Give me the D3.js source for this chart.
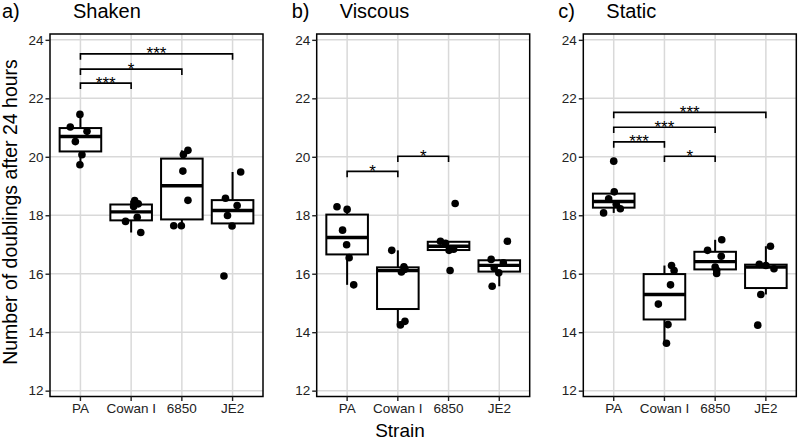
<!DOCTYPE html>
<html><head><meta charset="utf-8">
<script src="https://cdn.jsdelivr.net/npm/d3@7"></script>
<style>body{margin:0;background:#fff;} text{font-family:"Liberation Sans",Arial,Helvetica,sans-serif;}</style>
</head><body>
<svg id="chart" width="800" height="440"></svg>
<script>
const strains = ["PA", "Cowan I", "6850", "JE2"];
const conditions = ["Shaken", "Viscous", "Static"];
const panelTags = ["a)", "b)", "c)"];
const yTicks = [12, 14, 16, 18, 20, 22, 24];

// values per strain (PA, Cowan I, 6850, JE2)
const shakenValues = [
  [21.45, 21.02, 20.87, 20.52, 20.07, 19.73],
  [18.50, 18.39, 18.30, 17.93, 17.79, 17.41],
  [20.22, 20.08, 19.51, 18.51, 17.64, 17.64],
  [19.48, 18.58, 18.33, 17.99, 17.63, 15.92]
];
const viscousValues = [
  [18.29, 18.20, 17.49, 16.99, 16.55, 15.62],
  [16.80, 16.24, 16.15, 16.06, 14.37, 14.25],
  [18.40, 17.11, 17.04, 16.84, 16.80, 16.11],
  [17.11, 16.49, 16.37, 16.20, 16.03, 15.57]
];
const staticValues = [
  [19.85, 18.80, 18.56, 18.38, 18.22, 18.08],
  [16.28, 16.11, 15.62, 14.96, 14.26, 13.62],
  [17.16, 16.80, 16.60, 16.23, 16.12, 16.01],
  [16.94, 16.32, 16.28, 16.17, 15.29, 14.24]
];
// horizontal jitter (category units) of each point
const shakenJitter = [
  [-0.01, -0.20, 0.13, -0.10, 0.03, -0.01],
  [0.07, 0.14, 0.05, 0.12, -0.11, 0.19],
  [0.12, 0.03, 0.02, 0.12, -0.16, -0.01],
  [0.16, -0.14, 0.09, -0.10, -0.01, -0.17]
];
const viscousJitter = [
  [-0.20, 0.00, -0.09, -0.01, 0.04, 0.13],
  [-0.12, 0.12, 0.14, 0.07, 0.14, 0.05],
  [0.13, -0.16, -0.06, 0.10, 0.01, 0.03],
  [0.16, -0.16, 0.08, -0.10, -0.01, -0.14]
];
const staticJitter = [
  [0.00, 0.01, -0.10, 0.05, 0.13, -0.20],
  [0.14, 0.19, 0.12, -0.12, 0.07, 0.04],
  [0.13, -0.15, 0.12, 0.00, 0.03, 0.03],
  [0.09, -0.13, 0.00, 0.16, -0.10, -0.16]
];
// significance brackets: [from, to, y, label]
const shakenSig = [["PA", "Cowan I", 22.52, "***"], ["PA", "6850", 23.0, "*"], ["PA", "JE2", 23.52, "***"]];
const viscousSig = [["PA", "Cowan I", 19.50, "*"], ["Cowan I", "6850", 20.02, "*"]];
const staticSig = [["PA", "Cowan I", 20.51, "***"], ["PA", "6850", 21.01, "***"], ["PA", "JE2", 21.52, "***"], ["Cowan I", "6850", 20.02, "*"]];

const panelValues = [shakenValues, viscousValues, staticValues];
const panelJitter = [shakenJitter, viscousJitter, staticJitter];
const panelSig = [shakenSig, viscousSig, staticSig];

const svg = d3.select("#chart");
const panelLefts = [50, 316.7, 583.3];
const panelW = 213;
const plotTop = 34, plotBottom = 396.5;
const y = d3.scaleLinear().domain([11.8, 24.2]).range([plotBottom, plotTop]);

function stats(vals) {
  const s = vals.slice().sort(d3.ascending);
  const q1 = d3.quantile(s, 0.25), med = d3.quantile(s, 0.5), q3 = d3.quantile(s, 0.75);
  const iqr = q3 - q1;
  const lo = d3.min(s.filter(v => v >= q1 - 1.5 * iqr));
  const hi = d3.max(s.filter(v => v <= q3 + 1.5 * iqr));
  return {q1, med, q3, lo, hi};
}

conditions.forEach((cond, pi) => {
  const left = panelLefts[pi];
  const x = d3.scaleBand().domain(strains).range([left, left + panelW]).paddingInner(0).paddingOuter(0.1);
  const step = x.bandwidth();
  const cx = s => x(s) + step / 2;
  const g = svg.append("g");

  // grid
  g.selectAll(".hg").data(yTicks).join("line")
    .attr("x1", left).attr("x2", left + panelW)
    .attr("y1", d => y(d)).attr("y2", d => y(d))
    .attr("stroke", "#d9d9d9").attr("stroke-width", 1.5);
  g.selectAll(".vg").data(strains).join("line")
    .attr("x1", d => cx(d)).attr("x2", d => cx(d))
    .attr("y1", plotTop).attr("y2", plotBottom)
    .attr("stroke", "#d9d9d9").attr("stroke-width", 1.5);

  // boxes
  const vals = panelValues[pi];
  strains.forEach((s, si) => {
    const st = stats(vals[si]);
    const c = cx(s), hw = step * 0.41;
    g.append("line").attr("x1", c).attr("x2", c).attr("y1", y(st.hi)).attr("y2", y(st.q3))
      .attr("stroke", "#000").attr("stroke-width", 2);
    g.append("line").attr("x1", c).attr("x2", c).attr("y1", y(st.q1)).attr("y2", y(st.lo))
      .attr("stroke", "#000").attr("stroke-width", 2);
    g.append("rect").attr("x", c - hw).attr("width", 2 * hw)
      .attr("y", y(st.q3)).attr("height", y(st.q1) - y(st.q3))
      .attr("fill", "#fff").attr("stroke", "#000").attr("stroke-width", 2);
    g.append("line").attr("x1", c - hw).attr("x2", c + hw).attr("y1", y(st.med)).attr("y2", y(st.med))
      .attr("stroke", "#000").attr("stroke-width", 3.4);
  });

  // points
  strains.forEach((s, si) => {
    g.selectAll(null).data(vals[si].map((v, k) => [v, panelJitter[pi][si][k]])).join("circle")
      .attr("cx", d => cx(s) + d[1] * step).attr("cy", d => y(d[0]))
      .attr("r", 3.8).attr("fill", "#000");
  });

  // significance brackets
  panelSig[pi].forEach(([a, b, yv, lab]) => {
    const xa = cx(a), xb = cx(b), yy = y(yv), yt = y(yv - 0.2);
    g.append("path").attr("d", `M${xa},${yt}L${xa},${yy}L${xb},${yy}L${xb},${yt}`)
      .attr("fill", "none").attr("stroke", "#000").attr("stroke-width", 1.6);
    g.append("text").attr("x", (xa + xb) / 2).attr("y", yy + 5.5)
      .attr("text-anchor", "middle").attr("font-size", 17).attr("fill", "#000").text(lab);
  });

  // border
  g.append("rect").attr("x", left).attr("y", plotTop).attr("width", panelW).attr("height", plotBottom - plotTop)
    .attr("fill", "none").attr("stroke", "#000").attr("stroke-width", 1.5);

  // axes
  const ya = d3.axisLeft(y).tickValues(yTicks).tickSize(4.5).tickPadding(2);
  const yg = svg.append("g").attr("transform", `translate(${left},0)`).call(ya);
  yg.select(".domain").remove();
  yg.selectAll(".tick line").attr("stroke", "#222").attr("stroke-width", 1.4);
  yg.selectAll(".tick text").attr("font-size", 13.5).attr("fill", "#222")
    .style("font-family", '"Liberation Sans",Arial,sans-serif');

  const xa = d3.axisBottom(x).tickSize(4.5).tickPadding(2);
  const xg = svg.append("g").attr("transform", `translate(0,${plotBottom})`).call(xa);
  xg.select(".domain").remove();
  xg.selectAll(".tick line").attr("stroke", "#222").attr("stroke-width", 1.4);
  xg.selectAll(".tick text").attr("font-size", 13.5).attr("fill", "#222")
    .style("font-family", '"Liberation Sans",Arial,sans-serif');

  // titles
  svg.append("text").attr("x", pi === 0 ? 2 : left - 25).attr("y", 18)
    .attr("font-size", 20).attr("fill", "#000").text(panelTags[pi]);
  svg.append("text").attr("x", left + 23).attr("y", 18)
    .attr("font-size", 20).attr("fill", "#000").text(cond);
});

svg.append("text").attr("transform", "translate(17,212) rotate(-90)")
  .attr("text-anchor", "middle").attr("font-size", 19.5).attr("fill", "#000")
  .text("Number of doublings after 24 hours");
svg.append("text").attr("x", 400).attr("y", 436.5)
  .attr("text-anchor", "middle").attr("font-size", 19).attr("fill", "#000").text("Strain");
</script>
</body></html>
